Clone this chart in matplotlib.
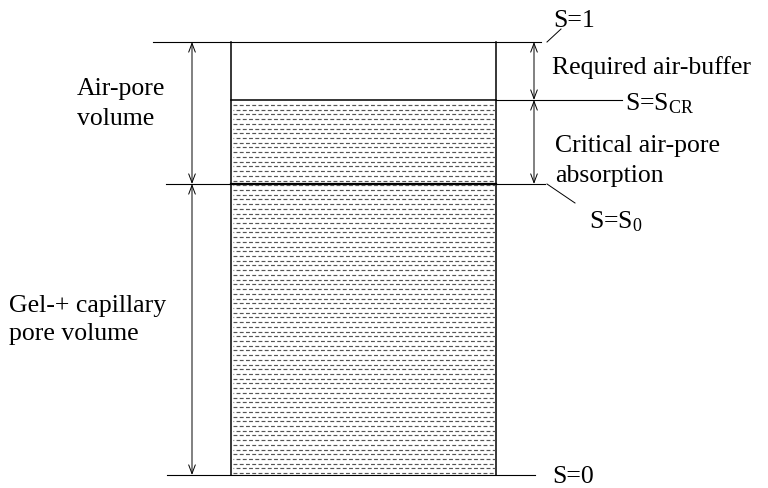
import numpy as np
import matplotlib
matplotlib.use("Agg")
import matplotlib.pyplot as plt

plt.rcParams['font.family'] = ['Liberation Serif', 'DejaVu Serif']
plt.rcParams['mathtext.fontset'] = 'custom'
plt.rcParams['mathtext.rm'] = 'Liberation Serif'
plt.rcParams['mathtext.it'] = 'Liberation Serif:italic'
plt.rcParams['lines.scale_dashes'] = False

# saturation levels (pixel rows of the sketch, top = S=1)
level_names = ['S=1', 'S=S$_{\\mathrm{CR}}$', 'S=S$_{0}$', 'S=0']
level_y = [42, 100, 184, 475]

# container and filling
box_x = [231, 496]
water_top = 100

# labels, one entry per text line
side_labels = [['Air-pore', 'volume'], ['Gel-+ capillary', 'pore volume']]
right_labels = [['Required air-buffer'], ['Critical air-pore', 'absorption']]

fig = plt.figure(figsize=(7.68, 4.88), dpi=100)
ax = fig.add_axes([0, 0, 1, 1])
ax.set_xlim(0, 768)
ax.set_ylim(488, 0)
ax.axis('off')

fs = 18.5
lc = 'black'

# horizontal level lines
ax.plot([153, 541], [level_y[0]] * 2, color=lc, lw=0.8)
ax.plot([box_x[1], 622], [level_y[1]] * 2, color=lc, lw=0.8)
ax.plot([166, 545], [level_y[2]] * 2, color=lc, lw=0.8)
ax.plot(box_x, [level_y[2]] * 2, color=lc, lw=1.6)
ax.plot([167, 535], [level_y[3]] * 2, color=lc, lw=0.8)

# container sides and water surface
for x in box_x:
    ax.plot([x, x], [level_y[0], level_y[3]], color=lc, lw=1.1)
ax.plot(box_x, [water_top] * 2, color=lc, lw=1.1)

# dashed water fill
rows = np.arange(water_top + 5, level_y[3] - 1, 4.72)
for i, y in enumerate(rows):
    off = 0 if i % 2 == 0 else 2.3
    ax.plot([box_x[0] + 2, box_x[1] - 1], [y, y], color='#555555', lw=0.85,
            linestyle=(off, (2.8, 1.7)), dash_capstyle='butt')

# dimension arrows
def dim(x, y0, y1):
    ax.annotate('', xy=(x, y1), xytext=(x, y0),
                arrowprops=dict(arrowstyle='<->,head_length=0.45,head_width=0.17',
                                mutation_scale=14, color=lc, lw=0.7,
                                shrinkA=0, shrinkB=0))

dim(192, level_y[0], level_y[2])
dim(192, level_y[2], level_y[3])
dim(534, level_y[0], level_y[1])
dim(534, level_y[1], level_y[2])

# leader lines
ax.plot([547, 561], [level_y[0], 29], color=lc, lw=0.7)
ax.plot([547, 575], [level_y[2], 203], color=lc, lw=0.7)

# level labels
ax.text(553, 27, level_names[0], fontsize=fs, va='baseline')
ax.text(625, 110, level_names[1], fontsize=fs, va='baseline')
ax.text(589, 228, level_names[2], fontsize=fs, va='baseline')
ax.text(552, 483, level_names[3], fontsize=fs, va='baseline')

# descriptive labels
def block(x, y, lines, step):
    for k, s in enumerate(lines):
        ax.text(x, y + k * step, s, fontsize=fs, va='baseline')

block(552, 74, right_labels[0], 30)
block(555, 152, right_labels[1], 30)
block(77, 95, side_labels[0], 30)
block(9, 312, side_labels[1], 28)

fig.savefig('out.png', dpi=100)
